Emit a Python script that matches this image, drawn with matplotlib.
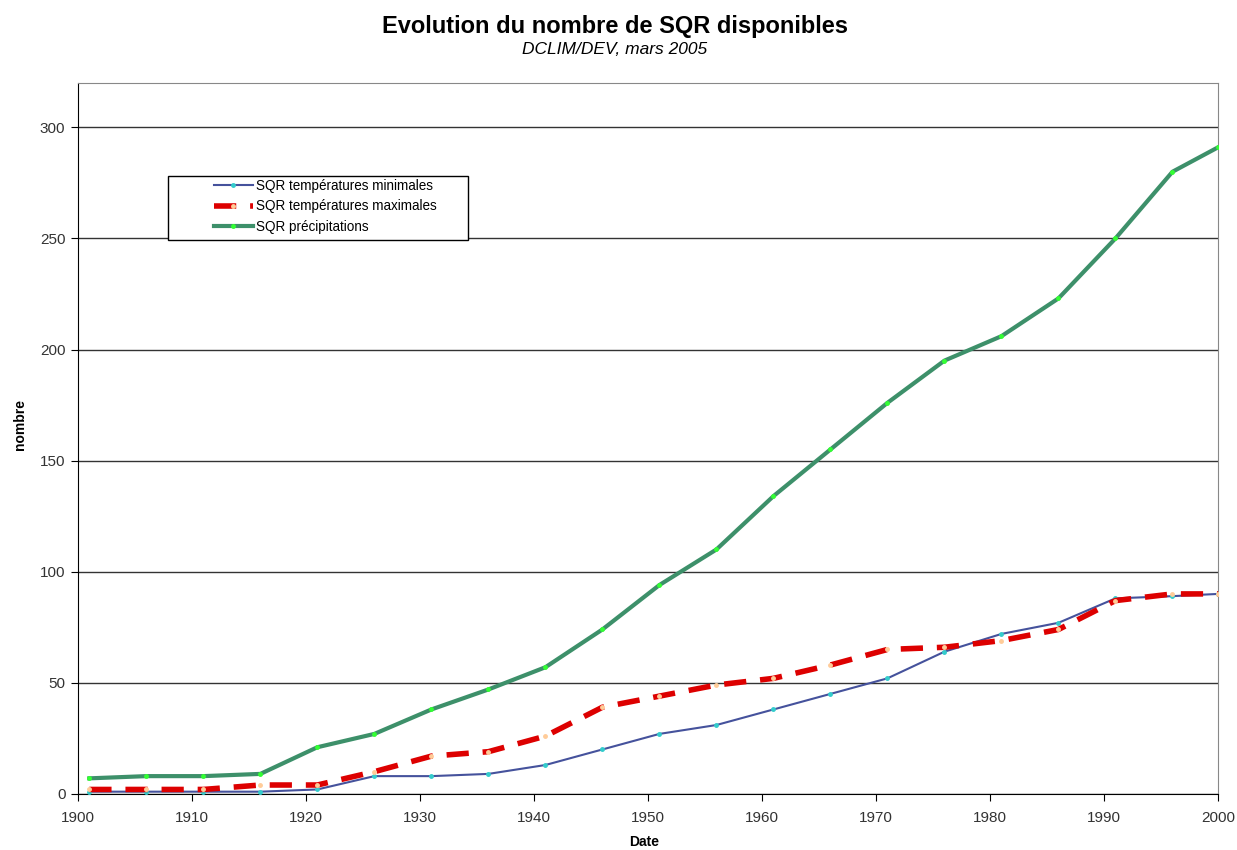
import matplotlib.pyplot as plt
from matplotlib.patches import Rectangle

plt.rcParams['font.family'] = ['Liberation Sans', 'DejaVu Sans']

years = [1901, 1906, 1911, 1916, 1921, 1926, 1931, 1936, 1941, 1946, 1951,
         1956, 1961, 1966, 1971, 1976, 1981, 1986, 1991, 1996, 2000]
tmin = [1, 1, 1, 1, 2, 8, 8, 9, 13, 20, 27, 31, 38, 45, 52, 64, 72, 77, 88, 89, 90]
tmax = [2, 2, 2, 4, 4, 10, 17, 19, 26, 39, 44, 49, 52, 58, 65, 66, 69, 74, 87, 90, 90]
precip = [7, 8, 8, 9, 21, 27, 38, 47, 57, 74, 94, 110, 134, 155, 176, 195, 206,
          223, 250, 280, 291]

labels = ['SQR températures minimales', 'SQR températures maximales',
          'SQR précipitations']

fig = plt.figure(figsize=(12.37, 8.5), dpi=100)
ax = fig.add_axes([0.063, 0.066, 0.9217, 0.8365])

ax.plot(years, tmin, color='#45529c', lw=1.5, marker='o', ms=2.5,
        mfc='#33cccc', mec='#33cccc', label=labels[0], zorder=3)
ax.plot(years, tmax, color='#dd0000', lw=4, ls=(0, (4, 2.5)), marker='o', ms=2.5,
        mfc='#ffcc99', mec='#ffcc99', label=labels[1], zorder=4)
ax.plot(years, precip, color='#3d906a', lw=3, marker='o', ms=2.5,
        mfc='#33ff33', mec='#33ff33', label=labels[2], zorder=5)

ax.set_xlim(1900, 2000)
ax.set_ylim(0, 320)
ax.set_xticks(range(1900, 2001, 10))
ax.set_yticks(range(0, 301, 50))
ax.yaxis.grid(True, color='#333333', lw=1)
ax.set_axisbelow(True)
ax.tick_params(axis='both', labelsize=11, color='black', length=5,
               labelcolor='#333333')
ax.tick_params(axis='x', pad=7)
ax.tick_params(axis='y', pad=4)
ax.spines['top'].set_color('#888888')
ax.spines['right'].set_color('#888888')

ax.set_xlabel('Date', fontsize=10, fontweight='bold')
ax.set_ylabel('nombre', fontsize=10, fontweight='bold')
ax.xaxis.set_label_coords(0.497, -0.058)
ax.yaxis.set_label_coords(-0.045, 0.52)

fig.text(0.497, 0.969, 'Evolution du nombre de SQR disponibles',
         ha='center', va='center', fontsize=17, fontweight='bold')
fig.text(0.497, 0.942, 'DCLIM/DEV, mars 2005', ha='center', va='center',
         fontsize=12.5, fontstyle='italic')

# legend box drawn separately so the padding matches the original
ax.add_patch(Rectangle((0.0789, 0.779), 0.263, 0.09, transform=ax.transAxes,
                       facecolor='white', edgecolor='black', lw=1, zorder=6))
leg = ax.legend(loc='upper left', bbox_to_anchor=(0.113, 0.875), fontsize=9.75,
                frameon=False, handlelength=2.9, borderpad=0, labelspacing=0.5,
                handletextpad=0.25)
leg.set_zorder(7)

fig.savefig('out.png', dpi=100)
